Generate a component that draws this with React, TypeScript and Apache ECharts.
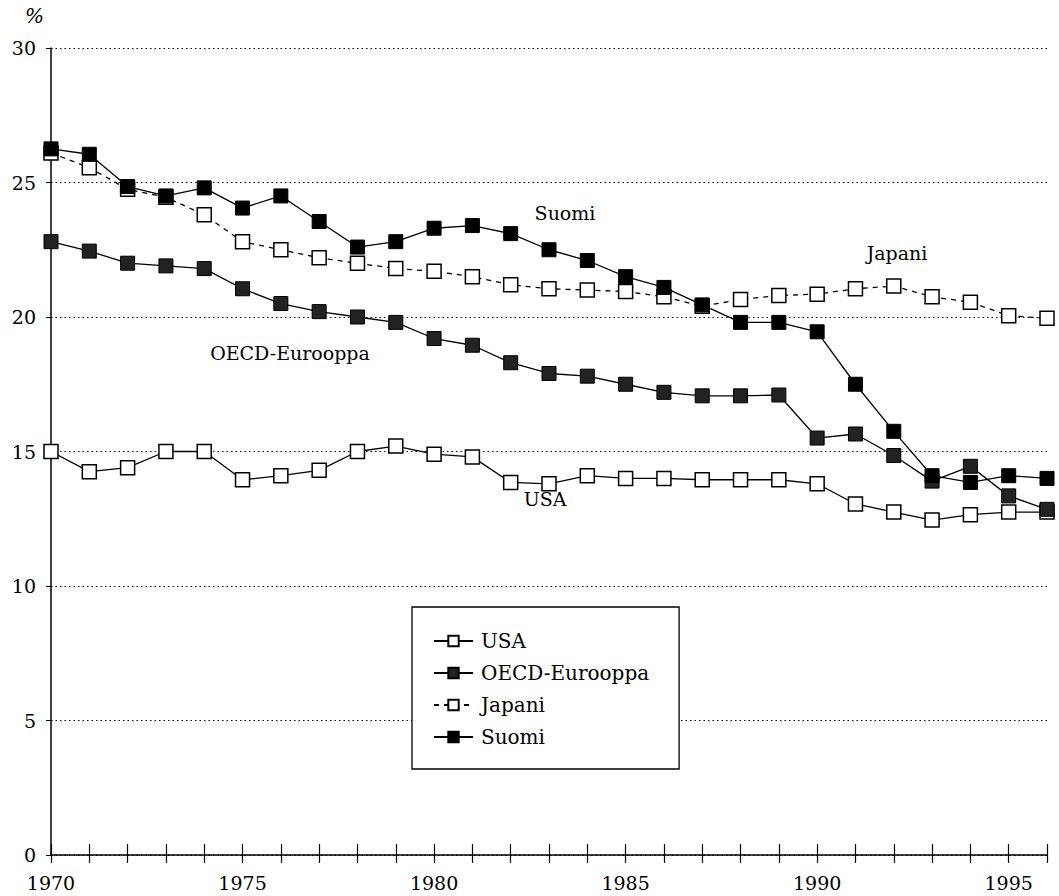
import React, { useEffect, useRef } from "react";
import * as echarts from "echarts";

const years = [1970,1971,1972,1973,1974,1975,1976,1977,1978,1979,1980,1981,1982,1983,1984,1985,1986,1987,1988,1989,1990,1991,1992,1993,1994,1995,1996];
const usa = [15.0,14.25,14.4,15.0,15.0,13.95,14.1,14.3,15.0,15.2,14.9,14.8,13.85,13.8,14.1,14.0,14.0,13.95,13.95,13.95,13.8,13.05,12.75,12.45,12.65,12.75,12.75];
const oecd = [22.8,22.45,22.0,21.9,21.8,21.05,20.5,20.2,20.0,19.8,19.2,18.95,18.3,17.9,17.8,17.5,17.2,17.07,17.07,17.1,15.5,15.65,14.85,13.9,14.45,13.35,12.85];
const japani = [26.1,25.55,24.75,24.45,23.8,22.8,22.5,22.2,22.0,21.8,21.7,21.5,21.2,21.05,21.0,20.95,20.75,20.4,20.65,20.8,20.85,21.05,21.15,20.75,20.55,20.05,19.95];
const suomi = [26.25,26.05,24.85,24.5,24.8,24.05,24.5,23.55,22.6,22.8,23.3,23.4,23.1,22.5,22.1,21.5,21.1,20.45,19.8,19.8,19.45,17.5,15.75,14.1,13.85,14.1,14.0];
const yTicks = [0, 5, 10, 15, 20, 25, 30];
const xLabelYears = [1970, 1975, 1980, 1985, 1990, 1995];

const FONT = "DejaVu Serif";

function pairs(vals: number[]) {
  return years.map((y, i) => [y, vals[i]]);
}

export default function App() {
  const ref = useRef<HTMLDivElement>(null);
  useEffect(() => {
    if (!ref.current) return;
    const chart = echarts.init(ref.current, undefined, { renderer: "svg" });
    const openSym = { color: "#fff", borderColor: "#000", borderWidth: 1.5 };
    const label = (text: string, x: number, y: number) => ({
      type: "text",
      x,
      y,
      z: 10,
      style: { text, fontFamily: FONT, fontSize: 19, fill: "#000", textAlign: "center", textVerticalAlign: "middle" },
    });
    const option: any = {
      animation: false,
      backgroundColor: "#fff",
      textStyle: { fontFamily: FONT },
      grid: { left: 51, right: 12, top: 48, bottom: 41, containLabel: false },
      xAxis: [
        {
          type: "value",
          min: 1970,
          max: 1996,
          interval: 1,
          axisLine: { show: true, lineStyle: { color: "#000", width: 1.5 } },
          axisTick: { show: true, length: 8, lineStyle: { color: "#000", width: 1.2 } },
          axisLabel: {
            margin: 18,
            fontFamily: FONT,
            fontSize: 19,
            color: "#000",
            formatter: (v: number) => (xLabelYears.indexOf(v) >= 0 ? String(v) : ""),
          },
          splitLine: { show: false },
        },
        {
          type: "value",
          min: 1970,
          max: 1996,
          interval: 1,
          position: "bottom",
          axisLine: { show: false },
          axisTick: { show: true, inside: true, length: 11, lineStyle: { color: "#000", width: 1.2 } },
          axisLabel: { show: false },
          splitLine: { show: false },
        },
      ],
      yAxis: {
        type: "value",
        min: yTicks[0],
        max: yTicks[yTicks.length - 1],
        interval: 5,
        axisLine: { show: true, lineStyle: { color: "#000", width: 1.5 } },
        axisTick: { show: true, length: 5, lineStyle: { color: "#000" } },
        axisLabel: { margin: 15, fontFamily: FONT, fontSize: 19, color: "#000" },
        splitLine: { show: true, lineStyle: { color: "#000", type: [1.5, 3], width: 1 } },
      },
      legend: {
        orient: "vertical",
        left: 412,
        top: 607,
        backgroundColor: "#fff",
        borderColor: "#000",
        borderWidth: 1.3,
        borderRadius: 0,
        padding: [24, 30, 22, 21],
        itemGap: 12,
        itemWidth: 39,
        itemHeight: 13,
        textStyle: { fontFamily: FONT, fontSize: 20, color: "#000", padding: [0, 0, 0, 3] },
        data: ["USA", "OECD-Eurooppa", "Japani", "Suomi"],
      },
      graphic: [
        { type: "text", left: 25, top: 6, style: { text: "%", fontFamily: FONT, fontSize: 20, fontStyle: "italic", fill: "#000" } },
        label("Suomi", 565, 213),
        label("Japani", 897, 253),
        label("OECD-Eurooppa", 290, 353),
        label("USA", 545, 499),
      ],
      series: [
        {
          name: "USA",
          type: "line",
          data: pairs(usa),
          symbol: "rect",
          symbolSize: 14,
          lineStyle: { color: "#000", width: 1.3 },
          itemStyle: openSym,
          color: "#000",
          z: 2,
        },
        {
          name: "OECD-Eurooppa",
          type: "line",
          data: pairs(oecd),
          symbol: "rect",
          symbolSize: 14,
          lineStyle: { color: "#000", width: 1.3 },
          itemStyle: { color: "#222", borderColor: "#000", borderWidth: 1 },
          color: "#222",
          z: 3,
        },
        {
          name: "Japani",
          type: "line",
          data: pairs(japani),
          symbol: "rect",
          symbolSize: 14,
          lineStyle: { color: "#000", width: 1.3, type: [5, 5] },
          itemStyle: openSym,
          color: "#000",
          z: 2,
        },
        {
          name: "Suomi",
          type: "line",
          data: pairs(suomi),
          symbol: "rect",
          symbolSize: 14,
          lineStyle: { color: "#000", width: 1.3 },
          itemStyle: { color: "#000", borderColor: "#000", borderWidth: 1 },
          color: "#000",
          z: 4,
        },
      ],
    };
    chart.setOption(option);
    return () => chart.dispose();
  }, []);
  return (
    <div
      ref={ref}
      style={{ position: "absolute", left: 0, top: 0, width: 1059, height: 896 }}
    />
  );
}
